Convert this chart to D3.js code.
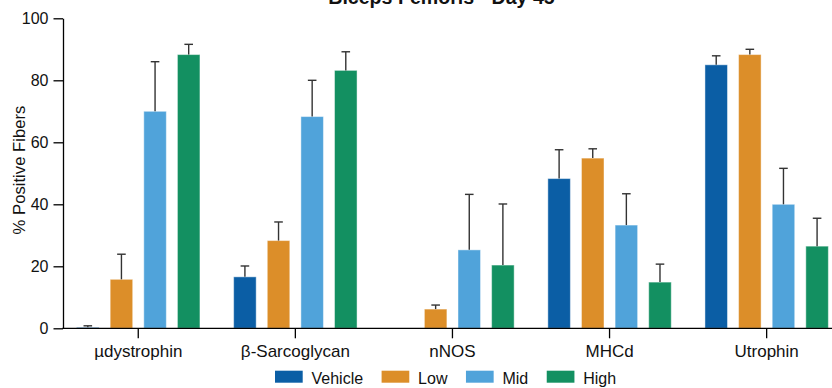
<!DOCTYPE html>
<html>
<head>
<meta charset="utf-8">
<script src="https://cdn.jsdelivr.net/npm/d3@7"></script>
<style>
  html, body { margin: 0; padding: 0; background: #fff; }
  svg { display: block; font-family: "Liberation Sans", Arial, sans-serif; }
</style>
</head>
<body>
<svg id="chart" width="832" height="388"></svg>
<script>
// Markers and treatment groups
const categories = ["µdystrophin", "β-Sarcoglycan", "nNOS", "MHCd", "Utrophin"];
const groups = ["Vehicle", "Low", "Mid", "High"];
const colors = ["#0b5ea5", "#dc8e29", "#50a3da", "#139061"];

// Mean % positive fibers per group (in category order)
const vehicle = [0.3, 16.6, 0, 48.3, 85.0];
const low     = [15.8, 28.3, 6.2, 54.9, 88.3];
const mid     = [70.0, 68.3, 25.3, 33.3, 40.0];
const high    = [88.3, 83.2, 20.4, 14.9, 26.5];

// Upper error (SD) per group
const vehicleErr = [0.5, 3.5, 0, 9.3, 2.9];
const lowErr     = [8.1, 6.0, 1.3, 3.0, 1.7];
const midErr     = [16.0, 11.7, 17.9, 10.1, 11.6];
const highErr    = [3.3, 6.0, 19.7, 5.8, 9.0];

const yTicks = [0, 20, 40, 60, 80, 100];
const title = "Biceps Femoris - Day 45";
const yTitle = "% Positive Fibers";

const means = [vehicle, low, mid, high];
const errs = [vehicleErr, lowErr, midErr, highErr];

const rows = [];
categories.forEach((c, ci) => {
  groups.forEach((g, gi) => {
    rows.push({ cat: c, group: g, gi, value: means[gi][ci], err: errs[gi][ci] });
  });
});

const svg = d3.select("#chart");
const axisX0 = 63, plotTop = 18.3, plotBottom = 328.3;

const y = d3.scaleLinear().domain([0, 100]).range([plotBottom, plotTop]);
const x = d3.scaleBand().domain(categories).range([59.7, 845.2]).padding(0);
const halfGroup = 61.7;
const xs = d3.scaleBand().domain(groups).range([-halfGroup, halfGroup])
  .paddingInner(0.33).paddingOuter(0);
const color = d3.scaleOrdinal().domain(groups).range(colors);

// Title (sits partly above the top edge)
svg.append("text")
  .attr("x", 441.5).attr("y", 4)
  .attr("text-anchor", "middle")
  .attr("font-weight", "bold")
  .attr("font-size", 19.6)
  .attr("fill", "#111")
  .text(title);

// Bars
svg.append("g").selectAll("rect")
  .data(rows)
  .join("rect")
  .attr("x", d => x(d.cat) + x.bandwidth() / 2 + xs(d.group))
  .attr("width", xs.bandwidth())
  .attr("y", d => y(d.value))
  .attr("height", d => y(0) - y(d.value))
  .attr("fill", d => color(d.group))
  .attr("stroke", "#ffffff")
  .attr("stroke-opacity", 0.45)
  .attr("stroke-width", 1);

// Upper error bars
const eb = svg.append("g")
  .attr("stroke", "#333")
  .attr("stroke-width", 1.4)
  .selectAll("g")
  .data(rows.filter(d => d.err > 0))
  .join("g")
  .attr("transform", d => `translate(${x(d.cat) + x.bandwidth() / 2 + xs(d.group) + xs.bandwidth() / 2},0)`);
eb.append("line")
  .attr("y1", d => y(d.value)).attr("y2", d => y(d.value + d.err));
eb.append("line")
  .attr("x1", -4.3).attr("x2", 4.3)
  .attr("y1", d => y(d.value + d.err)).attr("y2", d => y(d.value + d.err));

// Y axis
const yAxis = svg.append("g")
  .attr("transform", `translate(${axisX0},0)`)
  .call(d3.axisLeft(y).tickValues(yTicks).tickSize(9.5).tickSizeOuter(0).tickPadding(5));
yAxis.select(".domain").attr("stroke", "#000").attr("stroke-width", 1.3);
yAxis.selectAll(".tick line").attr("stroke", "#000").attr("stroke-width", 1.3);
yAxis.selectAll(".tick text").attr("font-size", 16).attr("fill", "#111")
  .attr("font-family", "Liberation Sans, Arial, sans-serif");

// X axis
const xAxis = svg.append("g")
  .attr("transform", `translate(0,${plotBottom})`)
  .call(d3.axisBottom(x).tickSize(10).tickSizeOuter(0).tickPadding(6.7));
xAxis.select(".domain").remove();
xAxis.append("line")
  .attr("x1", axisX0 - 0.65).attr("x2", 832)
  .attr("stroke", "#000").attr("stroke-width", 1.3);
xAxis.selectAll(".tick line").attr("stroke", "#000").attr("stroke-width", 1.3);
xAxis.selectAll(".tick text").attr("font-size", 17).attr("fill", "#111")
  .attr("font-family", "Liberation Sans, Arial, sans-serif");

// Y axis title
svg.append("text")
  .attr("transform", "translate(24.5,170) rotate(-90)")
  .attr("text-anchor", "middle")
  .attr("font-size", 16.7)
  .attr("fill", "#111")
  .text(yTitle);

// Legend
const legend = svg.append("g");
let lx = 275;
groups.forEach(g => {
  const item = legend.append("g").attr("transform", `translate(${lx},0)`);
  item.append("rect")
    .attr("x", 0).attr("y", 370.7)
    .attr("width", 27.7).attr("height", 12)
    .attr("fill", color(g));
  const t = item.append("text")
    .attr("x", 36.5).attr("y", 383.5)
    .attr("font-size", 16)
    .attr("fill", "#111")
    .text(g);
  lx += 36.5 + t.node().getComputedTextLength() + 18.5;
});
</script>
</body>
</html>
